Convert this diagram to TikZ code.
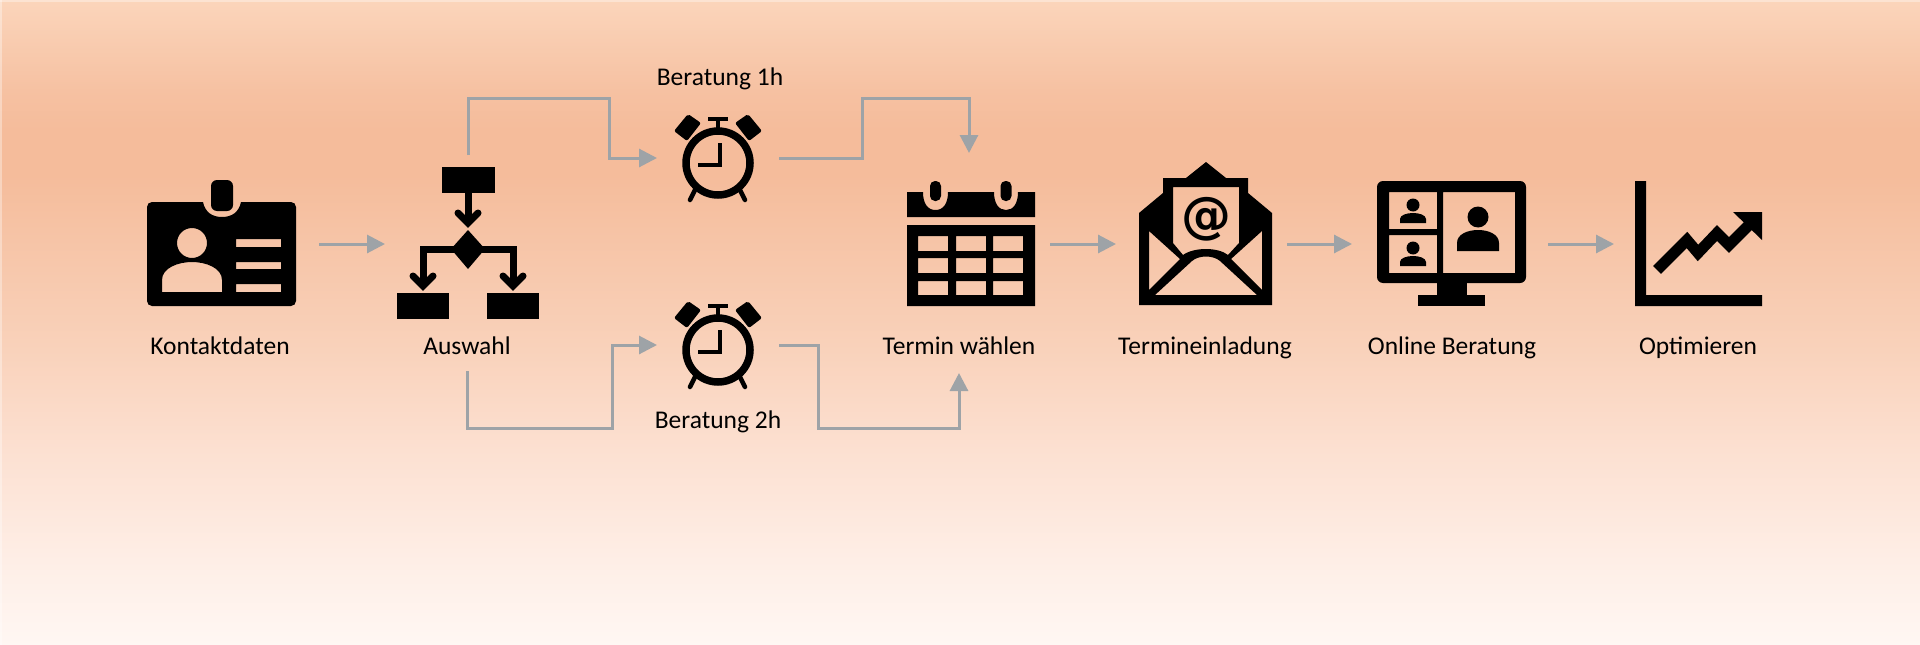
\documentclass[tikz,border=0pt]{standalone}
\usepackage{fontspec}
\setmainfont{Carlito}
\newfontfamily\atfont{DejaVu Sans}
\usetikzlibrary{arrows.meta}
\definecolor{flowgray}{HTML}{9EA3A7}
\definecolor{bga}{HTML}{FBD5BB}
\definecolor{bgh}{HTML}{F6C1A2}
\definecolor{bgb}{HTML}{F5BC9B}
\definecolor{bgc}{HTML}{F6C3A5}
\definecolor{bgd}{HTML}{F9D2BB}
\definecolor{bge}{HTML}{FCE0D1}
\definecolor{bgf}{HTML}{FEEEE6}
\definecolor{bgg}{HTML}{FFF7F3}
\tikzset{
  iconbox/.style={minimum height=178pt,inner sep=0pt,outer sep=0pt},
  labeltext/.style={anchor=base,inner sep=0pt,outer sep=0pt,text depth=20pt,
    font=\fontsize{25.5}{28}\selectfont},
  flowline/.style={draw=flowgray,line width=3pt,-{Triangle[length=18pt,width=18pt]}},
  clockicon/.pic={
    \draw [line width=7.5pt] (0,0) circle (32);
    \draw [line width=4pt] (2,-20) -- (2,2) -- (-20,2);
    \fill [rounded corners=2pt] (-30,-49) -- (-17,-40) -- (-31,-22) -- (-44,-32) --cycle;
    \fill [rounded corners=2pt] (30,-49) -- (17,-40) -- (31,-22) -- (44,-32) --cycle;
    \draw [line width=4pt] (-10,-44) -- (10,-44);
    \draw [line width=4pt] (0,-44) -- (0,-33);
    \draw [line width=4.5pt,line cap=round] (-23,27) -- (-28,37);
    \draw [line width=4.5pt,line cap=round] (22,27) -- (27,37);
  },
  personicon/.pic={
    \fill (0,-9) circle (6.5);
    \fill (-13,9) -- (-13,5) .. controls (-13,1) and (-6,-1) .. (0,-1)
      .. controls (6,-1) and (13,1) .. (13,5) -- (13,9) --cycle;
  },
}
\begin{document}
\begin{tikzpicture}[x=1pt,y=-1pt]
\useasboundingbox (0,0) rectangle (1920,645);
% background
\foreach \ya/\yb/\ca/\cb in {0/90/bga/bgh,90/130/bgh/bgb,130/175/bgb/bgb,175/230/bgb/bgc,230/350/bgc/bgd,350/450/bgd/bge,450/560/bge/bgf,560/645/bgf/bgg}
  \shade [top color=\ca,bottom color=\cb] (0,\ya) rectangle (1920,\yb+0.5);
\fill [white,opacity=.35] (0,0) rectangle (1920,1.5);
\fill [white,opacity=.35] (0,0) rectangle (2,645);

% nodes
\node [iconbox,minimum width=194pt] (kontakt) at (222,244) {};
\node [iconbox,minimum width=166pt] (auswahl) at (468,244) {};
\node [iconbox,minimum width=122pt] (clockeins) at (718,158) {};
\node [iconbox,minimum width=122pt] (clockzwei) at (718,345) {};
\node [iconbox,minimum width=162pt,minimum height=182pt] (termin) at (969,244) {};
\node [iconbox,minimum width=171pt] (mail) at (1201.5,244) {};
\node [iconbox,minimum width=196pt] (online) at (1450,244) {};
\node [iconbox,minimum width=168pt] (chart) at (1698,244) {};

\node [labeltext] (kontaktlabel) at (220,354) {Kontaktdaten};
\node [labeltext,text depth=17pt] (auswahllabel) at (467,354) {Auswahl};
\node [labeltext] (einslabel) at (720,85) {Beratung 1h};
\node [labeltext] (zweilabel) at (718,428) {Beratung 2h};
\node [labeltext,text depth=19pt] (terminlabel) at (959,354) {Termin wählen};
\node [labeltext] (maillabel) at (1205,354) {Termineinladung};
\node [labeltext] (onlinelabel) at (1452,354) {Online Beratung};
\node [labeltext] (chartlabel) at (1698,354) {Optimieren};

% connectors
\coordinate (a1) at (609,98);
\coordinate (a2) at (612,428);
\coordinate (b1) at (862,98);
\coordinate (b2) at (818,428);
\draw [flowline] (kontakt.east) -- (auswahl.west);
\draw [flowline] (auswahl.north) |- (a1) |- (clockeins.west);
\draw [flowline] (auswahllabel.south) |- (a2) |- (clockzwei.west);
\draw [flowline] (clockeins.east) -| (b1) -| (termin.north);
\draw [flowline] (clockzwei.east) -| (b2) -| (terminlabel.south);
\draw [flowline] (termin.east) -- (mail.west);
\draw [flowline] (mail.east) -- (online.west);
\draw [flowline] (online.east) -- (chart.west);

% badge
\fill [even odd rule] (147,207) arc (180:270:5) -- (203,202)
  .. controls (205,212) and (212,217) .. (222,217) .. controls (232,217) and (239,212) .. (241,202)
  -- (291,202) arc (270:360:5) -- (296,301) arc (0:90:5) -- (152,306) arc (90:180:5) --cycle
  (192,243) circle (15)
  (162,292) -- (162,280) .. controls (162,268) and (178,262) .. (192,262)
  .. controls (206,262) and (222,268) .. (222,280) -- (222,292) --cycle
  (236,239) rectangle (281,247)
  (236,262) rectangle (281,269)
  (236,284) rectangle (281,292);
\fill [rounded corners=6pt] (211,180) rectangle (233,211);

% flowchart
\fill (442,167) rectangle (495,193);
\fill (397,293) rectangle (449,319);
\fill (487,293) rectangle (539,319);
\fill (468,230) -- (485,249) -- (468,269) -- (451,249) --cycle;
\draw [line width=7pt] (468,193) -- (468,222);
\draw [line width=7pt,line cap=round] (458,213) -- (468,223) -- (478,213);
\draw [line width=7pt] (455,249) -- (423,249) -- (423,285);
\draw [line width=7pt] (481,249) -- (513,249) -- (513,285);
\draw [line width=7pt,line cap=round] (413,276) -- (423,286) -- (433,276);
\draw [line width=7pt,line cap=round] (503,276) -- (513,286) -- (523,276);

% clocks
\pic at (718,163) {clockicon};
\pic at (718,350) {clockicon};

% calendar
\fill [even odd rule] (907,192) -- (923,192) .. controls (923,204) and (928,210) .. (935.5,210)
  .. controls (943,210) and (948,204) .. (948,192) -- (994,192)
  .. controls (994,204) and (999,210) .. (1006,210) .. controls (1013,210) and (1018,204) .. (1018,192)
  -- (1035,192) -- (1035,217) -- (907,217) --cycle;
\fill [rounded corners=5pt] (930,181) rectangle (941,201);
\fill [rounded corners=5pt] (1000.5,181) rectangle (1011.5,201);
\fill [even odd rule] (907,225) rectangle (1035,306)
  \foreach \xa/\xb in {918/948,956/986,993/1023}{
    (\xa,236) rectangle (\xb,251)
    (\xa,258) rectangle (\xb,273)
    (\xa,281) rectangle (\xb,295)
  };

% envelope
\fill [even odd rule] (1206,162) -- (1226,178) -- (1248,178) -- (1248,193) -- (1272,213)
  -- (1272,305) -- (1139,305) -- (1139,213) -- (1163,193) -- (1163,178) -- (1186,178) --cycle
  (1173,187) -- (1239,187) -- (1239,243) -- (1228,255) .. controls (1218,247) and (1194,247) .. (1183,255) -- (1173,243) --cycle
  (1149,231) -- (1180,259) -- (1149,290) --cycle
  (1262,231) -- (1231,259) -- (1262,290) --cycle
  (1155,295) -- (1192,261) .. controls (1199,255) and (1213,255) .. (1220,261) -- (1257,295) --cycle;
\node [inner sep=0pt,font=\atfont\bfseries\fontsize{50}{50}\selectfont] (mailat) at (1206,219) {@};

% monitor
\fill [even odd rule,rounded corners=6pt] (1377,181) rectangle (1526,283) [sharp corners]
  (1389,192) rectangle (1437,229)
  (1389,235) rectangle (1437,273)
  (1443,192) rectangle (1515,273);
\fill (1437,283) rectangle (1467,297);
\fill (1418,295) rectangle (1485,306);
\pic at (1413,214) {personicon};
\pic at (1413,257) {personicon};
\fill (1478,217) circle (10.5);
\fill (1457,251) -- (1457,243) .. controls (1457,234) and (1468,230) .. (1478,230)
  .. controls (1488,230) and (1499,234) .. (1499,243) -- (1499,251) --cycle;

% chart
\fill (1635,181) -- (1646,181) -- (1646,295) -- (1762,295) -- (1762,306) -- (1635,306) --cycle;
\draw [line width=11pt] (1657,270) -- (1687,240) -- (1698,253) -- (1717,233) -- (1729,245) -- (1750,224);
\fill (1733,212) -- (1762,212) -- (1762,240) --cycle;
\end{tikzpicture}
\end{document}
